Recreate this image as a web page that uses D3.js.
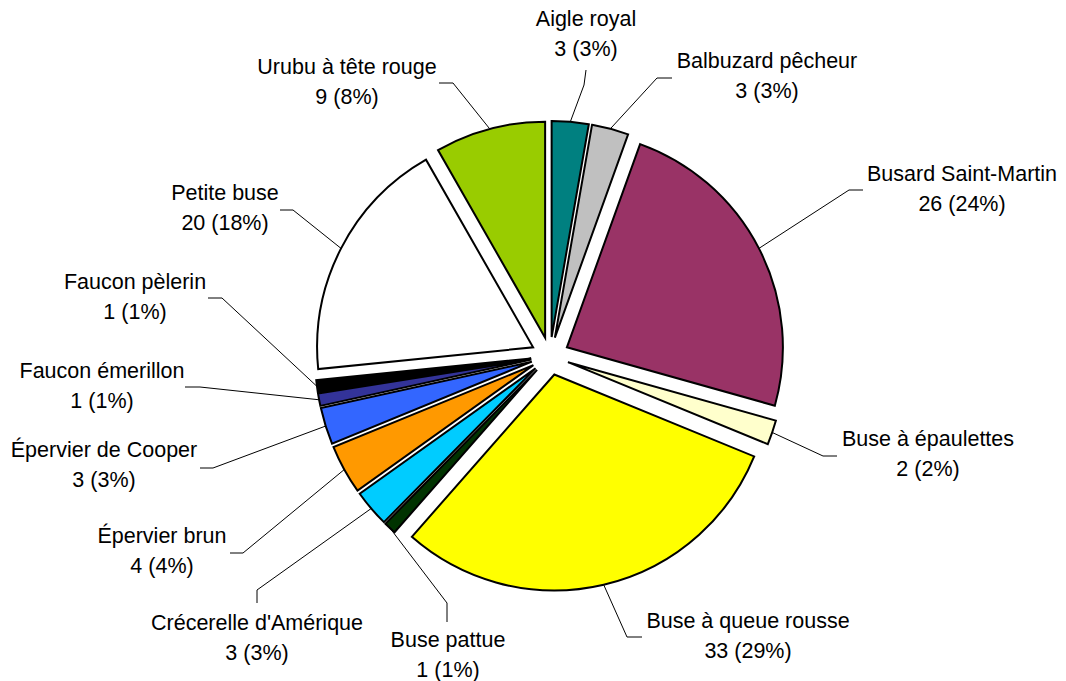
<!DOCTYPE html>
<html>
<head>
<meta charset="utf-8">
<script src="https://cdn.jsdelivr.net/npm/d3@7/dist/d3.min.js"></script>
<style>
  html, body { margin: 0; padding: 0; background: #ffffff; }
  svg { display: block; }
  text { font-family: "Liberation Sans", Arial, sans-serif; font-size: 21.5px; fill: #000; }
</style>
</head>
<body>
<svg id="chart" width="1066" height="681"></svg>
<script>
// ---- Data ----
const categories = [
  "Aigle royal", "Balbuzard pêcheur", "Busard Saint-Martin", "Buse à épaulettes",
  "Buse à queue rousse", "Buse pattue", "Crécerelle d'Amérique", "Épervier brun",
  "Épervier de Cooper", "Faucon émerillon", "Faucon pèlerin", "Petite buse",
  "Urubu à tête rouge"
];
const values = [3, 3, 26, 2, 33, 1, 3, 4, 3, 1, 1, 20, 9];
const percentLabels = ["3%", "3%", "24%", "2%", "29%", "1%", "3%", "4%", "3%", "1%", "1%", "18%", "8%"];

// ---- Styles ----
const colors = [
  "#008080", "#C0C0C0", "#993366", "#FFFFCC",
  "#FFFF00", "#003300", "#00CCFF", "#FF9900",
  "#3366FF", "#333399", "#000000", "#FFFFFF",
  "#99CC00"
];

// ---- Layout ----
const cx = 550, cy = 356, radius = 216, explode = 19, lineGap = 29.5;
// label: [centerX, firstBaseline], leader knee and leader end (near label)
const labelLayout = [
  { lx: 586, ly: 26,  knee: [584, 85],  end: [586, 70] },
  { lx: 767, ly: 68,  knee: [657, 78],  end: [672, 78] },
  { lx: 962, ly: 181, knee: [849, 190], end: [863, 190] },
  { lx: 928, ly: 446, knee: [823, 456], end: [837, 456] },
  { lx: 748, ly: 628, knee: [627, 637], end: [642, 637] },
  { lx: 448, ly: 647, knee: [447, 603], end: [447, 622] },
  { lx: 257, ly: 630, knee: [257, 590], end: [257, 603] },
  { lx: 162, ly: 543, knee: [243, 553], end: [230, 553] },
  { lx: 104, ly: 457, knee: [213, 468], end: [200, 468] },
  { lx: 102, ly: 378, knee: [200, 387], end: [185, 387] },
  { lx: 135, ly: 289, knee: [222, 298], end: [208, 298] },
  { lx: 225, ly: 200, knee: [293, 210], end: [280, 210] },
  { lx: 347, ly: 74,  knee: [453, 83],  end: [439, 83] }
];

const svg = d3.select("#chart");

const pie = d3.pie().sort(null).value(d => d).startAngle(0).endAngle(2 * Math.PI);
const arcs = pie(values);
const arc = d3.arc().innerRadius(0).outerRadius(radius);

const g = svg.append("g").attr("transform", `translate(${cx},${cy})`);

function dir(a) {
  const m = (a.startAngle + a.endAngle) / 2;
  return [Math.sin(m), -Math.cos(m)];
}

// leader lines
const leaderGroup = svg.append("g");
arcs.forEach((a, i) => {
  const [dx, dy] = dir(a);
  const p0 = [cx + dx * (explode + radius), cy + dy * (explode + radius)];
  const L = labelLayout[i];
  leaderGroup.append("path")
    .attr("d", d3.line()([p0, L.knee, L.end]))
    .attr("fill", "none")
    .attr("stroke", "#000")
    .attr("stroke-width", 1);
});

// slices
g.selectAll("path.slice")
  .data(arcs)
  .join("path")
  .attr("class", "slice")
  .attr("d", arc)
  .attr("transform", a => {
    const [dx, dy] = dir(a);
    return `translate(${dx * explode},${dy * explode})`;
  })
  .attr("fill", (a, i) => colors[i])
  .attr("stroke", "#000")
  .attr("stroke-width", 2)
  .attr("stroke-linejoin", "miter");

// labels
const labelGroup = svg.append("g");
arcs.forEach((a, i) => {
  const L = labelLayout[i];
  const t = labelGroup.append("text").attr("text-anchor", "middle");
  t.append("tspan").attr("x", L.lx).attr("y", L.ly).text(categories[i]);
  t.append("tspan").attr("x", L.lx).attr("y", L.ly + lineGap)
    .text(`${values[i]} (${percentLabels[i]})`);
});
</script>
</body>
</html>
